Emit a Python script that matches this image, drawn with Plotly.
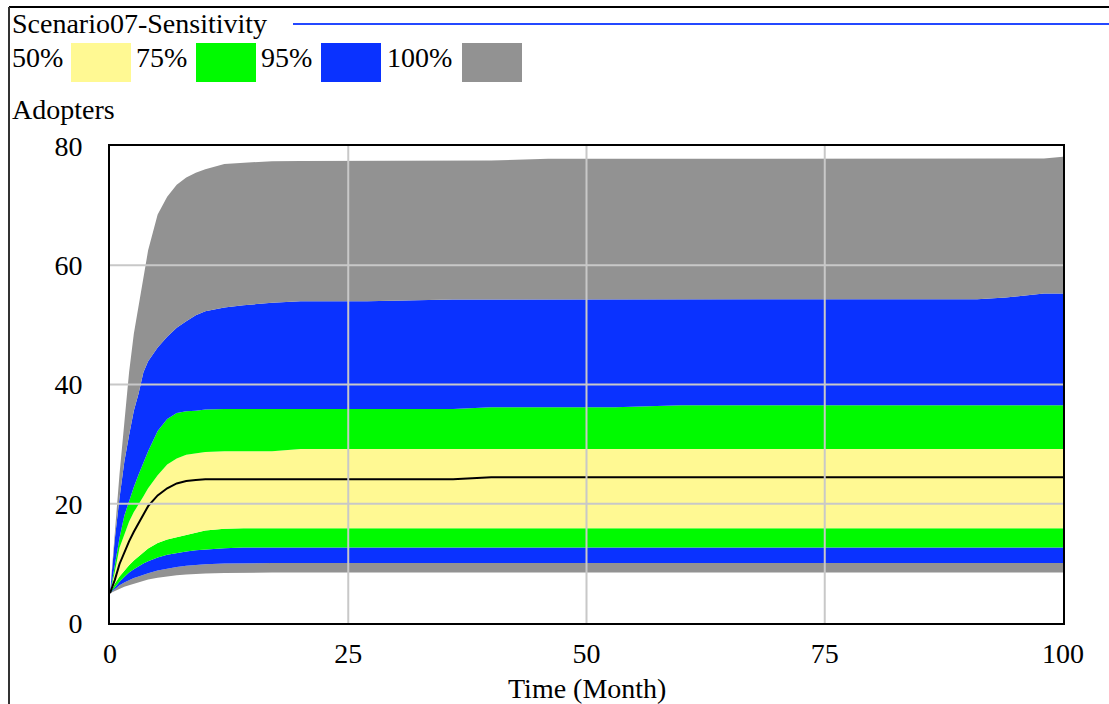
import plotly.graph_objects as go

# Simulation time (months) at which the sensitivity envelopes are sampled
time = [0, 0.5, 1, 1.5, 2, 2.5, 3, 3.5, 4, 5, 6, 7, 8, 9, 10, 12, 14, 17, 20, 27,
        36, 40, 46, 53, 60, 80, 91, 94, 98, 100]

# Envelope bounds of Adopters across the sensitivity runs
p100_hi = [5, 15.5, 25, 33.5, 42, 48.5, 53, 58, 62.5, 68.5, 71.5, 73.5, 74.7, 75.5, 76.1,
           77.0, 77.2, 77.45, 77.5, 77.55, 77.55, 77.55, 77.85, 77.85, 77.85, 77.85,
           77.85, 77.85, 77.9, 78.2]
p95_hi = [5, 14, 21, 27, 31.5, 35.6, 38.5, 42.0, 43.9, 46.2, 48.0, 49.5, 50.6, 51.6, 52.3,
          52.9, 53.3, 53.7, 53.96, 53.96, 54.25, 54.25, 54.25, 54.3, 54.3, 54.3, 54.3,
          54.6, 55.25, 55.25]
p75_hi = [5, 10, 14.3, 18, 20.6, 22.8, 24.9, 26.8, 28.8, 32.2, 34.2, 35.2, 35.5, 35.6, 35.8,
          35.9, 35.9, 35.9, 35.9, 35.9, 35.9, 36.2, 36.2, 36.2, 36.5, 36.5, 36.5, 36.5,
          36.5, 36.5]
p50_hi = [5, 8.5, 12.6, 14.8, 17.0, 18.6, 19.8, 21.2, 22.6, 24.8, 26.6, 27.6, 28.2, 28.5,
          28.7, 28.8, 28.8, 28.8, 29.2, 29.2, 29.2, 29.2, 29.2, 29.2, 29.2, 29.2, 29.2,
          29.2, 29.2, 29.2]
base_run = [5, 7.2, 9.9, 11.9, 13.7, 15.3, 16.8, 18.2, 19.6, 21.4, 22.6, 23.4, 23.8, 24.0,
            24.1, 24.1, 24.1, 24.1, 24.1, 24.1, 24.1, 24.45, 24.45, 24.45, 24.45, 24.45,
            24.45, 24.45, 24.45, 24.45]
p50_lo = [5, 6.6, 7.8, 8.8, 9.7, 10.5, 11.2, 11.9, 12.5, 13.4, 14.0, 14.4, 14.8, 15.2, 15.5,
          15.8, 15.9, 15.9, 15.9, 15.9, 15.9, 15.9, 15.9, 15.9, 15.9, 15.9, 15.9, 15.9,
          15.9, 15.9]
p75_lo = [5, 6.0, 6.9, 7.7, 8.45, 9.0, 9.5, 10.0, 10.35, 11.0, 11.45, 11.75, 12.0, 12.2,
          12.35, 12.55, 12.65, 12.65, 12.65, 12.65, 12.65, 12.65, 12.65, 12.65, 12.65,
          12.65, 12.65, 12.65, 12.65, 12.65]
p95_lo = [5, 5.7, 6.35, 6.8, 7.2, 7.55, 7.8, 8.1, 8.35, 8.8, 9.15, 9.4, 9.6, 9.75, 9.85,
          10.0, 10.05, 10.05, 10.05, 10.05, 10.05, 10.05, 10.05, 10.05, 10.05, 10.05,
          10.05, 10.05, 10.05, 10.05]
p100_lo = [5, 5.4, 5.75, 6.1, 6.35, 6.6, 6.85, 7.1, 7.3, 7.6, 7.85, 8.0, 8.15, 8.25, 8.3,
           8.4, 8.45, 8.45, 8.45, 8.45, 8.45, 8.45, 8.45, 8.45, 8.45, 8.45, 8.45, 8.45,
           8.45, 8.45]

band_labels = ["50%", "75%", "95%", "100%"]
band_colors = ["#FFF993", "#00FA00", "#0A32FF", "#929292"]

x_ticks = [0, 25, 50, 75, 100]
y_ticks = [0, 20, 40, 60, 80]

FONT = "'Liberation Serif', 'DejaVu Serif', 'Times New Roman', serif"
W, H = 1109, 704
L, R, T, B = 110, 1063, 146, 623  # plot area in pixels


def px(x):
    return (x - L) / (R - L)


def py(y):
    return (B - y) / (B - T)


fig = go.Figure()

# lower edge of the 100% envelope (no fill, anchor for the stack)
fig.add_trace(go.Scatter(x=time, y=p100_lo, mode="lines", line=dict(width=0),
                         hoverinfo="skip"))
band_stack = [(p95_lo, band_colors[3]), (p75_lo, band_colors[2]),
              (p50_lo, band_colors[1]), (p50_hi, band_colors[0]),
              (p75_hi, band_colors[1]), (p95_hi, band_colors[2]),
              (p100_hi, band_colors[3])]
for ys, col in band_stack:
    fig.add_trace(go.Scatter(x=time, y=ys, mode="lines", line=dict(width=0),
                             fill="tonexty", fillcolor=col, hoverinfo="skip"))

fig.add_trace(go.Scatter(x=time, y=base_run, mode="lines",
                         line=dict(color="black", width=2), hoverinfo="skip"))

shapes = []
# grid lines drawn above the bands
for v in x_ticks[1:-1]:
    shapes.append(dict(type="line", xref="x", yref="y", x0=v, x1=v, y0=0, y1=80,
                       line=dict(color="#C8C8C8", width=2), layer="above"))
for v in y_ticks[1:-1]:
    shapes.append(dict(type="line", xref="x", yref="y", x0=0, x1=100, y0=v, y1=v,
                       line=dict(color="#C8C8C8", width=2), layer="above"))

# outer frame of the graph window
shapes.append(dict(type="line", xref="paper", yref="paper", x0=px(9), x1=px(W),
                   y0=py(7), y1=py(7), line=dict(color="black", width=2)))
shapes.append(dict(type="line", xref="paper", yref="paper", x0=px(9), x1=px(9),
                   y0=py(7), y1=py(H), line=dict(color="#333333", width=2)))
# title rule
shapes.append(dict(type="line", xref="paper", yref="paper", x0=px(293), x1=px(W),
                   y0=py(24), y1=py(24), line=dict(color="#2448FF", width=2)))

annotations = [
    dict(text="Scenario07-Sensitivity", x=px(10), y=py(24), xref="paper", yref="paper",
         xanchor="left", yanchor="middle", showarrow=False,
         font=dict(family=FONT, size=28, color="black")),
    dict(text="Adopters", x=px(10), y=py(109), xref="paper", yref="paper",
         xanchor="left", yanchor="middle", showarrow=False,
         font=dict(family=FONT, size=28, color="black")),
    dict(text="Time (Month)", x=0.5, y=py(688), xref="paper", yref="paper",
         xanchor="center", yanchor="middle", showarrow=False,
         font=dict(family=FONT, size=28, color="black")),
]

# legend: label followed by a colour swatch
label_left = [10, 134, 259, 385]
box_left = [71, 196, 321, 462]
for lab, col, lx, bx in zip(band_labels, band_colors, label_left, box_left):
    annotations.append(dict(text=lab, x=px(lx), y=py(58), xref="paper", yref="paper",
                            xanchor="left", yanchor="middle", showarrow=False,
                            font=dict(family=FONT, size=28, color="black")))
    shapes.append(dict(type="rect", xref="paper", yref="paper", x0=px(bx),
                       x1=px(bx + 60), y0=py(82), y1=py(43), fillcolor=col,
                       line=dict(width=0)))

axis_common = dict(showgrid=False, zeroline=False, showline=True, mirror=True,
                   linecolor="black", linewidth=2, ticks="",
                   tickfont=dict(family=FONT, size=28, color="black"),
                   fixedrange=True)

fig.update_layout(
    width=W, height=H,
    margin=dict(l=L, r=W - R, t=T, b=H - B),
    paper_bgcolor="white", plot_bgcolor="white",
    showlegend=False,
    font=dict(family=FONT),
    xaxis=dict(range=[0, 100], tickvals=x_ticks, ticktext=[str(v) for v in x_ticks],
               ticklabelstandoff=4, **axis_common),
    yaxis=dict(range=[0, 80], tickvals=y_ticks, ticktext=[str(v) for v in y_ticks],
               ticklabelstandoff=20, **axis_common),
    shapes=shapes,
    annotations=annotations,
)

fig.write_html("out.html", config={"displayModeBar": False})
